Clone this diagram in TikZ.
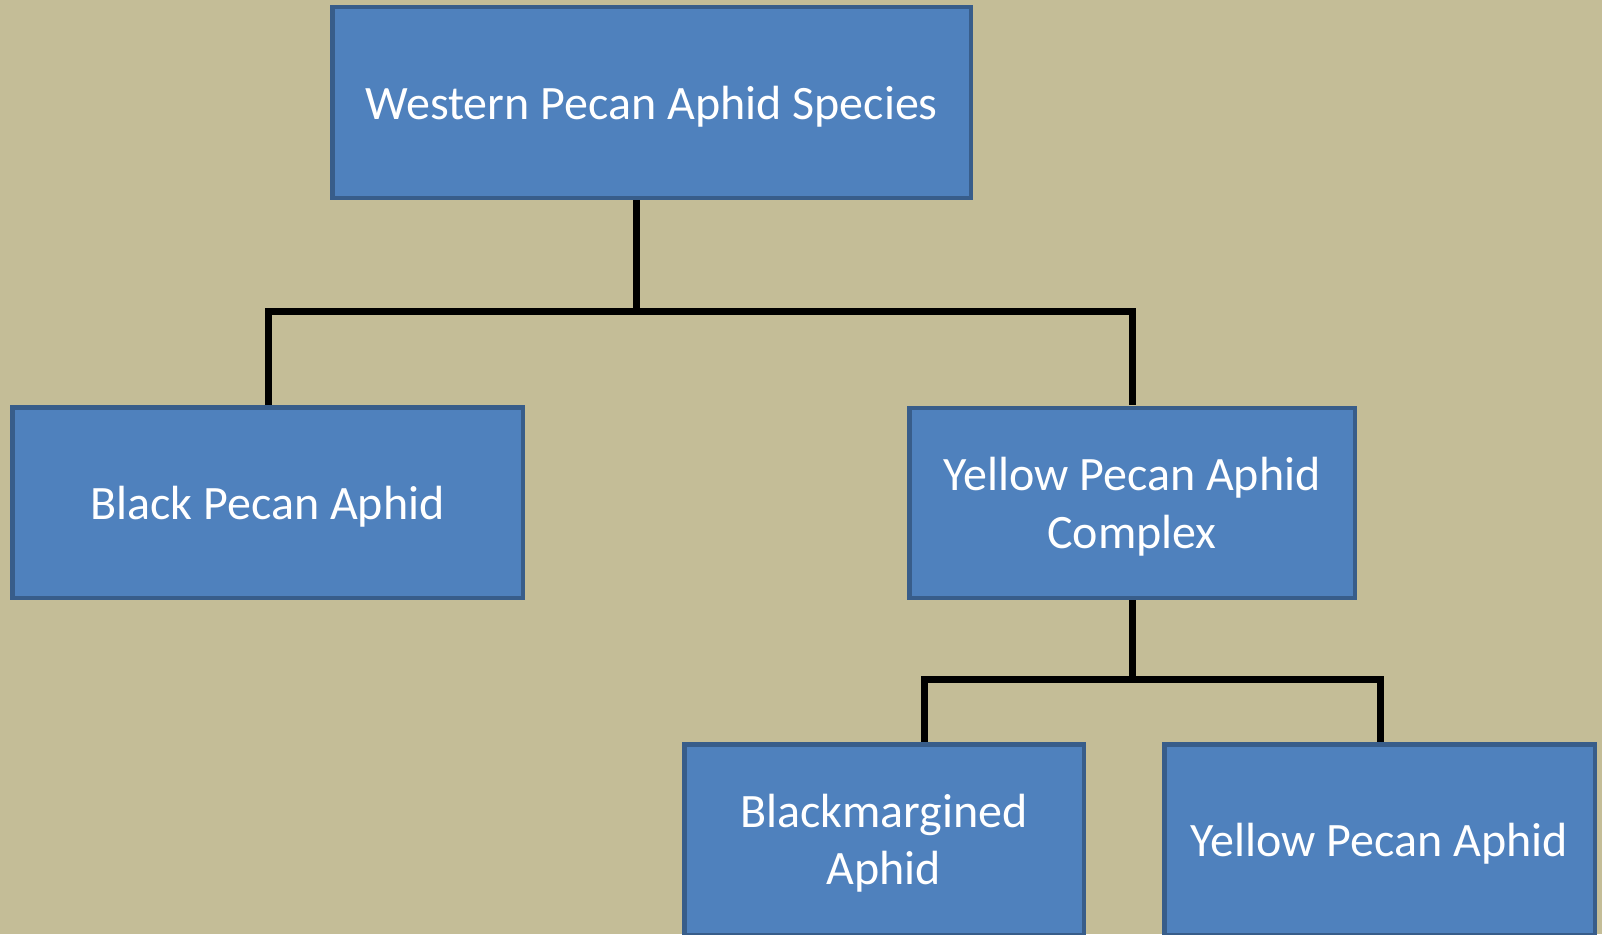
\documentclass[tikz,border=0pt]{standalone}
\usepackage{fontspec}
\setmainfont{Carlito}
\definecolor{bgc}{HTML}{C4BD97}
\definecolor{boxfill}{HTML}{4F81BD}
\definecolor{boxline}{HTML}{385D8A}
\begin{document}
\begin{tikzpicture}[x=1pt,y=-1pt,
  box/.style={rectangle,draw=boxline,fill=boxfill,line width=4.5pt,inner sep=0pt,
    text=white,align=center,text depth=0pt,font=\fontsize{48}{57.5}\selectfont},
  conn/.style={draw=black,line width=7pt,line join=miter}]
\useasboundingbox (0,0) rectangle (1602,934);
\clip (0,0) rectangle (1602,934);
\fill[bgc] (0,0) rectangle (1602,934);
\coordinate (j1) at (636,311);
\coordinate (j2l) at (924,679);
\coordinate (j2r) at (1380,679);
\draw[conn] (636,200) -- (j1);
\draw[conn] (268,405) -- (268,311) -- (1132,311) -- (1132,405);
\draw[conn] (1132,600) -- (1132,679);
\draw[conn] (924,742) -- (j2l) -- (j2r) -- (1380,742);
\node[box,minimum width=638.5pt,minimum height=190.5pt] (top) at (651.5,102.5) {Western Pecan Aphid Species};
\node[box,minimum width=510.5pt,minimum height=190.5pt] (black) at (267.5,502.5) {Black Pecan Aphid};
\node[box,minimum width=445.5pt,minimum height=190pt] (complex) at (1132,503) {Yellow Pecan Aphid\\Complex};
\node[box,minimum width=399.5pt,minimum height=190.5pt] (bm) at (884,839.5) {Blackmargined\\Aphid};
\node[box,minimum width=430.5pt,minimum height=190.5pt] (ypa) at (1379.5,839.5) {Yellow Pecan Aphid};
\end{tikzpicture}
\end{document}
